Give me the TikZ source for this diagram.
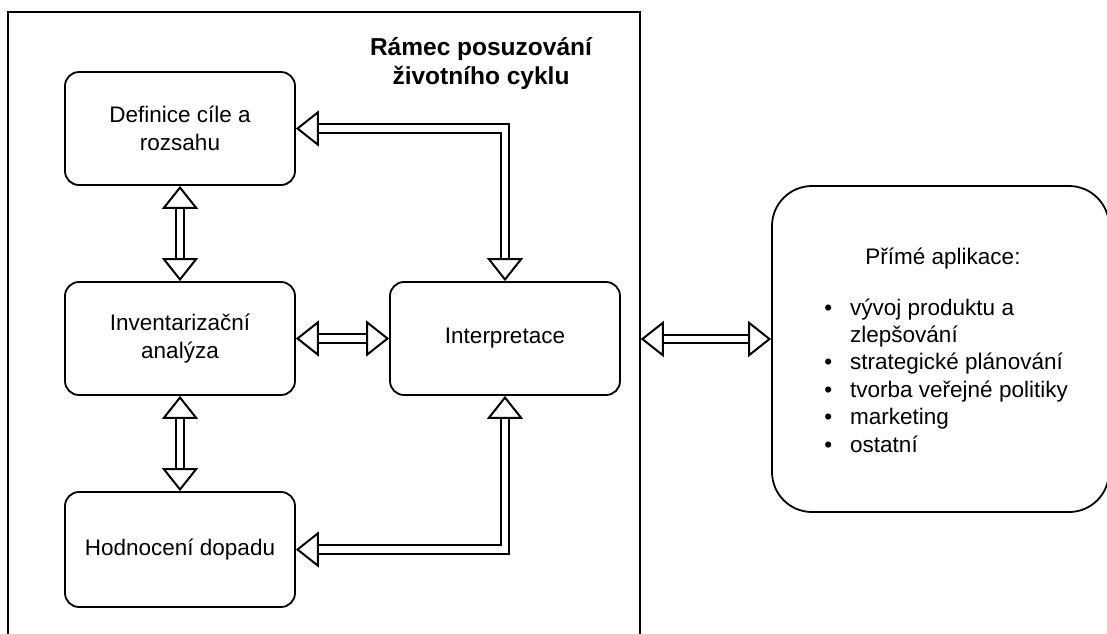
\documentclass[tikz,border=0pt]{standalone}
\usepackage{fontspec}
\setmainfont{Liberation Sans}
\usetikzlibrary{arrows.meta,calc}
\begin{document}
\begin{tikzpicture}[x=1pt,y=-1pt,
  txt/.style={font=\fontsize{22.5}{28}\selectfont},
  box/.style={draw=black,line width=1.8pt,rounded corners=14pt,minimum width=230pt,minimum height=113pt,align=center,inner sep=0pt,txt},
  tipw/.tip={Triangle[length=23pt,width=36pt,fill=white,line width=2pt]},
  dbl/.style={draw=black,line width=2pt,double=white,double distance=6.5pt,tipw-tipw},
  ]
\useasboundingbox (0,0) rectangle (1107,633);
\fill[white] (0,0) rectangle (1107,633);
% frame
\node[draw=black,line width=1.5pt,minimum width=632pt,minimum height=654pt,inner sep=0pt] (frame) at (324,339) {};
\node[font=\fontsize{24.5}{29}\selectfont\bfseries,align=center,anchor=base] (title) at (481,84) {Rámec posuzování\\životního cyklu};
% boxes
\node[box] (def) at (180,128.5) {Definice cíle a\\rozsahu};
\node[box] (inv) at (180,338.5) {Inventarizační\\analýza};
\node[box] (int) at (505,338.5) {Interpretace};
\node[box,minimum height=115pt] (hod) at (180,549.5) {Hodnocení dopadu};
\node[draw=black,line width=1.8pt,rounded corners=40pt,minimum width=337pt,minimum height=326pt,inner sep=0pt] (app) at (940.5,349) {};
\node[txt,anchor=base] (apptitle) at (943,264) {Přímé aplikace:};
\node[font=\fontsize{22.5}{27.4}\selectfont,anchor=base west,align=left,inner sep=0pt] (applist) at (850,452)
  {\llap{•\hspace{18pt}}vývoj produktu a\\
   zlepšování\\
   \llap{•\hspace{18pt}}strategické plánování\\
   \llap{•\hspace{18pt}}tvorba veřejné politiky\\
   \llap{•\hspace{18pt}}marketing\\
   \llap{•\hspace{18pt}}ostatní};
% connectors
\draw[dbl] (def.south) -- (inv.north);
\draw[dbl] (inv.south) -- (hod.north);
\draw[dbl] (inv.east) -- (int.west);
\draw[dbl] (def.east) -| (int.north);
\draw[dbl] (int.south) |- (hod.east);
\draw[dbl] (frame.east) -- (frame.east -| app.west);
\end{tikzpicture}
\end{document}
